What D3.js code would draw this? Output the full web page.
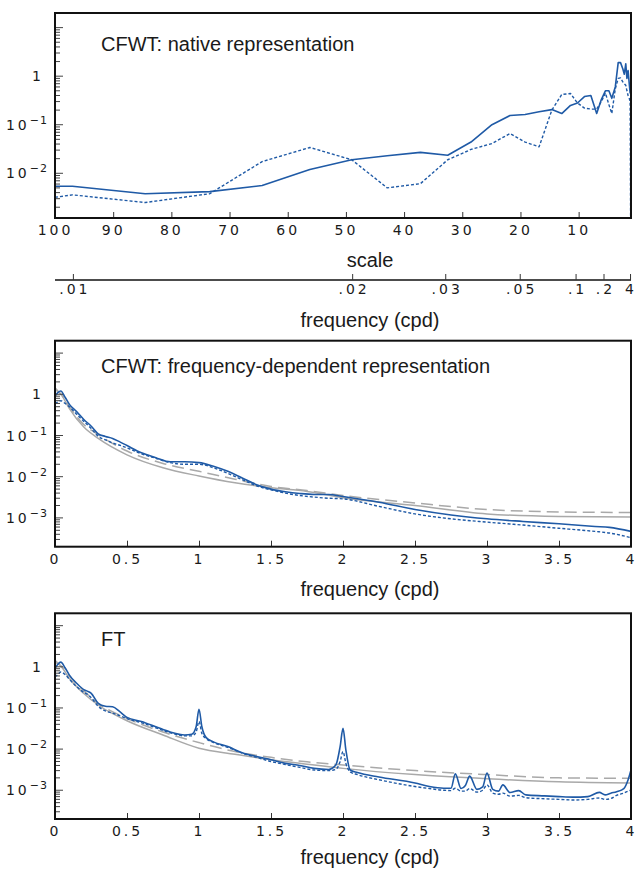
<!DOCTYPE html>
<html>
<head>
<meta charset="utf-8">
<title>CFWT vs FT spectra</title>
<script src="https://cdn.jsdelivr.net/npm/d3@7"></script>
<style>
  body { margin: 0; background: #fff; }
  svg text { font-family: 'Liberation Sans', Arial, sans-serif; fill: #1a1a1a; }
  .tick text, .ylab { font-family: 'DejaVu Sans', sans-serif; font-size: 14px; letter-spacing: 3px; }
  .edge { letter-spacing: 0px !important; }
</style>
</head>
<body>
<div id="chart"></div>
<script>
  // ---- top panel: CFWT native (x = wavelet scale)
  const nativeScale = [100, 97, 84.5, 73.4, 64.4, 56.2, 49, 42.9, 37.2, 32.5, 28.5, 24.9, 21.8, 19.2, 16.8, 14.6, 12.9, 11.4,
    10.2, 9.0, 7.9, 6.9, 6.1, 5.4, 4.8, 4.3, 3.7, 3.2, 2.8, 2.4, 2.15, 1.9, 1.7, 1.5, 1.3, 1.15, 1.0]
  const nativeSolid = [0.0054, 0.0054, 0.0038, 0.0042, 0.0056, 0.012, 0.019, 0.023, 0.027, 0.0235, 0.044, 0.10, 0.155, 0.163,
    0.185, 0.205, 0.17, 0.25, 0.28, 0.38, 0.40, 0.17, 0.33, 0.50, 0.50, 0.35, 0.60, 1.9, 1.9, 1.4, 1.1, 1.8, 0.9, 1.3, 0.7, 0.45, 0.6]
  const nativeDashed = [0.0032, 0.0036, 0.0025, 0.0038, 0.0174, 0.034, 0.019, 0.005, 0.0061, 0.019, 0.031, 0.041, 0.066, 0.044,
    0.035, 0.20, 0.42, 0.44, 0.28, 0.22, 0.21, 0.21, 0.30, 0.45, 0.26, 0.17, 0.55, 0.90, 0.92, 0.76, 0.70, 0.65, 0.50, 0.40, 0.35, 0.30, 0.00001]
  const scaleTicks = [100, 90, 80, 70, 60, 50, 40, 30, 20, 10]
  const freqTicks = [0.01, 0.02, 0.03, 0.05, 0.1, 0.2, 4]
  const freqTickLabels = [".01", ".02", ".03", ".05", ".1", ".2", "4"]
  const scalePerCycle = 0.96, scaleOffset = 0.84   // scale = scalePerCycle / freq + scaleOffset

  // ---- middle panel: CFWT frequency-dependent
  const cfwtFreq = [0, 0.02, 0.04, 0.07, 0.1, 0.15, 0.2, 0.25, 0.3, 0.35, 0.4, 0.45, 0.5, 0.6, 0.7, 0.8, 0.9, 1.0, 1.1, 1.2,
    1.3, 1.4, 1.5, 1.6, 1.7, 1.8, 1.9, 2.0, 2.25, 2.5, 2.75, 3.0, 3.25, 3.5, 3.75, 3.85, 4.0]
  const cfwtSolid = [0.9, 1.1, 1.2, 0.85, 0.57, 0.38, 0.245, 0.17, 0.11, 0.095, 0.085, 0.07, 0.057, 0.038, 0.029, 0.023, 0.023,
    0.022, 0.018, 0.0135, 0.0093, 0.0064, 0.005, 0.0043, 0.0039, 0.0037, 0.0037, 0.0033, 0.0024, 0.0016, 0.00118, 0.00095,
    0.00082, 0.00072, 0.00062, 0.00059, 0.00047]
  const cfwtDashed = [0.6, 0.65, 0.7, 0.6, 0.5, 0.33, 0.22, 0.15, 0.096, 0.078, 0.066, 0.058, 0.050, 0.036, 0.028, 0.022, 0.020,
    0.020, 0.0165, 0.012, 0.0085, 0.006, 0.0048, 0.004, 0.0035, 0.0032, 0.003, 0.0029, 0.0019, 0.00125, 0.00095, 0.00079,
    0.00067, 0.00056, 0.00047, 0.00043, 0.00033]

  // gray reference curves
  const modelFreq = [0, 0.05, 0.1, 0.2, 0.3, 0.5, 0.75, 1, 1.25, 1.5, 1.75, 2, 2.5, 3, 3.5, 4]
  const cfwtModelSolid = [1.45, 0.9, 0.45, 0.16, 0.085, 0.034, 0.0165, 0.0104, 0.0071, 0.0054, 0.0044, 0.0031, 0.0020, 0.00125, 0.00108, 0.00105]
  const cfwtModelDashed = [1.3, 0.95, 0.5, 0.185, 0.105, 0.042, 0.021, 0.0135, 0.0087, 0.0058, 0.0046, 0.0035, 0.0023, 0.0016, 0.0014, 0.00135]
  const ftModelSolid = [1.45, 0.95, 0.52, 0.225, 0.118, 0.049, 0.022, 0.0105, 0.0075, 0.0055, 0.0043, 0.0034, 0.0024, 0.0019, 0.0016, 0.0015]
  const ftModelDashed = [1.3, 1.0, 0.6, 0.26, 0.13, 0.056, 0.026, 0.0144, 0.0087, 0.0063, 0.0049, 0.0041, 0.003, 0.0024, 0.002, 0.00195]

  // ---- bottom panel: FT
  const ftFreq = [0, 0.02, 0.04, 0.07, 0.1, 0.15, 0.2, 0.22, 0.25, 0.3, 0.35, 0.4, 0.45, 0.5, 0.6, 0.7, 0.8, 0.9, 0.95, 0.98,
    1.0, 1.02, 1.05, 1.1, 1.2, 1.3, 1.4, 1.5, 1.6, 1.7, 1.8, 1.9, 1.95, 1.98, 2.0, 2.02, 2.05, 2.1, 2.25, 2.5, 2.6, 2.7, 2.75,
    2.78, 2.82, 2.85, 2.88, 2.93, 2.97, 3.0, 3.04, 3.08, 3.11, 3.16, 3.22, 3.27, 3.4, 3.5, 3.6, 3.7, 3.78, 3.82, 3.86, 3.9,
    3.95, 3.98, 4.0]
  const ftSolid = [0.9, 1.15, 1.3, 0.95, 0.63, 0.4, 0.28, 0.26, 0.23, 0.13, 0.11, 0.107, 0.081, 0.059, 0.047, 0.035, 0.026,
    0.022, 0.023, 0.035, 0.093, 0.035, 0.019, 0.015, 0.0115, 0.0082, 0.0066, 0.0055, 0.0045, 0.004, 0.0034, 0.0032, 0.0041,
    0.0115, 0.032, 0.0095, 0.0031, 0.0027, 0.0021, 0.0015, 0.00123, 0.00112, 0.00112, 0.0025, 0.0011, 0.0013, 0.0022, 0.00105,
    0.0012, 0.0026, 0.00105, 0.00095, 0.00135, 0.00088, 0.00098, 0.00077, 0.00073, 0.0007, 0.00068, 0.0007, 0.00089, 0.00077,
    0.00085, 0.00092, 0.0011, 0.0018, 0.0031]
  const ftDashed = [0.57, 0.65, 0.75, 0.65, 0.5, 0.33, 0.24, 0.22, 0.18, 0.11, 0.085, 0.075, 0.065, 0.055, 0.044, 0.033, 0.025,
    0.021, 0.021, 0.026, 0.047, 0.024, 0.018, 0.0145, 0.011, 0.008, 0.0063, 0.005, 0.0042, 0.0036, 0.0031, 0.003, 0.0032,
    0.005, 0.0087, 0.0045, 0.0028, 0.0024, 0.0018, 0.00123, 0.0011, 0.001, 0.00098, 0.00112, 0.00095, 0.00095, 0.0011, 0.0009,
    0.001, 0.00135, 0.00085, 0.0008, 0.00085, 0.00072, 0.00075, 0.00066, 0.00062, 0.0006, 0.00058, 0.0006, 0.00065, 0.0006,
    0.00063, 0.00075, 0.00085, 0.00095, 0.001]
  const freqAxisTicks = [0, 0.5, 1, 1.5, 2, 2.5, 3, 3.5, 4]

  const W = 635, H = 873, L = 55, R = 631
  const blue = "#1f5aa6", gray = "#a9a9a9"

  const svg = d3.select("#chart").append("svg")
    .attr("width", W).attr("height", H)
    .style("display", "block")

  function yAxis(y, top, bottom, labels) {
    const g = svg.append("g")
    y.ticks().forEach(v => {
      const major = Math.abs(Math.log10(v) - Math.round(Math.log10(v))) < 1e-9
      g.append("line")
        .attr("x1", L).attr("x2", L + (major ? 8 : 5))
        .attr("y1", y(v)).attr("y2", y(v))
        .attr("stroke", "#444").attr("stroke-width", 1)
    })
    labels.forEach(e => {
      const t = g.append("text").attr("class", "ylab")
        .attr("x", e === 0 ? 44 : 48).attr("y", y(Math.pow(10, e)) + 5)
        .attr("text-anchor", "end")
      if (e === 0) t.text("1")
      else {
        t.append("tspan").text("10")
        t.append("tspan").attr("dy", -6).style("font-size", "11px").style("letter-spacing", "1px").text("\u2212" + (-e))
      }
    })
  }

  function frame(top, bottom) {
    svg.append("rect").attr("x", L).attr("y", top).attr("width", R - L).attr("height", bottom - top)
      .attr("fill", "none").attr("stroke", "#111").attr("stroke-width", 2)
  }

  function clip(id, top, bottom) {
    svg.append("clipPath").attr("id", id).append("rect")
      .attr("x", L).attr("y", top).attr("width", R - L).attr("height", bottom - top)
  }

  function curve(xs, vs, x, y, clipId, color, dash, width, curveType) {
    const line = d3.line().x(d => x(d[0])).y(d => y(d[1])).curve(curveType)
    svg.append("path")
      .datum(xs.map((f, i) => [f, vs[i]]))
      .attr("d", line)
      .attr("clip-path", `url(#${clipId})`)
      .attr("fill", "none").attr("stroke", color)
      .attr("stroke-width", width)
      .attr("stroke-dasharray", dash)
      .attr("stroke-linejoin", "round")
  }

  function label(text, x, y, anchor) {
    svg.append("text").attr("x", x).attr("y", y).attr("text-anchor", anchor || "start")
      .style("font-size", "20px").text(text)
  }

  // last tick label sits on the right border: right-align it so it stays inside
  function pinLastLabel(g) {
    g.selectAll(".tick").filter((d, i, n) => i === n.length - 1).select("text")
      .attr("class", "edge").attr("text-anchor", "end").attr("x", 3)
  }

  //----------------- panel 1
  {
    const top = 13, bottom = 218
    const x = d3.scaleLinear().domain([100, 1]).range([L, R])
    const y = d3.scaleLog().domain([0.0012, 20]).range([bottom, top])
    clip("c1", top, bottom)
    curve(nativeScale, nativeSolid, x, y, "c1", blue, null, 1.6, d3.curveLinear)
    curve(nativeScale, nativeDashed, x, y, "c1", blue, "3,2", 1.4, d3.curveLinear)
    yAxis(y, top, bottom, [0, -1, -2])
    svg.append("g").attr("transform", `translate(0,${bottom})`)
      .call(d3.axisBottom(x).tickValues(scaleTicks).tickSizeInner(-6).tickSizeOuter(0).tickPadding(7))
      .call(g => g.select(".domain").remove())
      .call(g => g.selectAll(".tick line").attr("stroke", "#333"))
    frame(top, bottom)
    label("CFWT: native representation", 101, 50.5)
    label("scale", 370, 267, "middle")

    // secondary frequency axis
    const fy = 280
    const fx = f => x(scalePerCycle / f + scaleOffset)
    svg.append("line").attr("x1", L).attr("x2", R).attr("y1", fy).attr("y2", fy)
      .attr("stroke", "#111").attr("stroke-width", 1.5)
    const ft = svg.append("g")
    freqTicks.forEach((f, i) => {
      const last = i === freqTicks.length - 1
      ft.append("line").attr("x1", fx(f)).attr("x2", fx(f)).attr("y1", fy).attr("y2", fy - 6)
        .attr("stroke", "#333")
      ft.append("text").attr("class", last ? "ylab edge" : "ylab")
        .attr("x", last ? 634 : fx(f) + 1.5).attr("y", fy + 14)
        .attr("text-anchor", last ? "end" : "middle").text(freqTickLabels[i])
    })
    label("frequency (cpd)", 370, 327, "middle")
  }

  function freqPanel(top, bottom, id, title, series) {
    const x = d3.scaleLinear().domain([0, 4]).range([L, R])
    const y = d3.scaleLog().domain([0.0002, 20]).range([bottom, top])
    clip(id, top, bottom)
    series.forEach(s => curve(s.f, s.v, x, y, id, s.color, s.dash, s.w, d3.curveMonotoneX))
    yAxis(y, top, bottom, [0, -1, -2, -3])
    svg.append("g").attr("transform", `translate(0,${bottom})`)
      .call(d3.axisBottom(x).tickValues(freqAxisTicks).tickFormat(d3.format("")).tickSizeInner(-6).tickSizeOuter(0).tickPadding(7))
      .call(g => g.select(".domain").remove())
      .call(g => g.selectAll(".tick line").attr("stroke", "#333"))
      .call(pinLastLabel)
    frame(top, bottom)
    label(title, 101, top + 32.5)
  }

  //----------------- panel 2
  freqPanel(340.7, 546.7, "c2", "CFWT: frequency-dependent representation", [
    { f: modelFreq, v: cfwtModelSolid, color: gray, dash: null, w: 1.5 },
    { f: modelFreq, v: cfwtModelDashed, color: gray, dash: "12,6", w: 1.5 },
    { f: cfwtFreq, v: cfwtDashed, color: blue, dash: "3,2", w: 1.4 },
    { f: cfwtFreq, v: cfwtSolid, color: blue, dash: null, w: 1.6 }
  ])
  label("frequency (cpd)", 370, 596, "middle")

  //----------------- panel 3
  freqPanel(613.3, 819, "c3", "FT", [
    { f: modelFreq, v: ftModelSolid, color: gray, dash: null, w: 1.5 },
    { f: modelFreq, v: ftModelDashed, color: gray, dash: "12,6", w: 1.5 },
    { f: ftFreq, v: ftDashed, color: blue, dash: "3,2", w: 1.4 },
    { f: ftFreq, v: ftSolid, color: blue, dash: null, w: 1.6 }
  ])
  label("frequency (cpd)", 370, 864, "middle")
</script>
</body>
</html>
